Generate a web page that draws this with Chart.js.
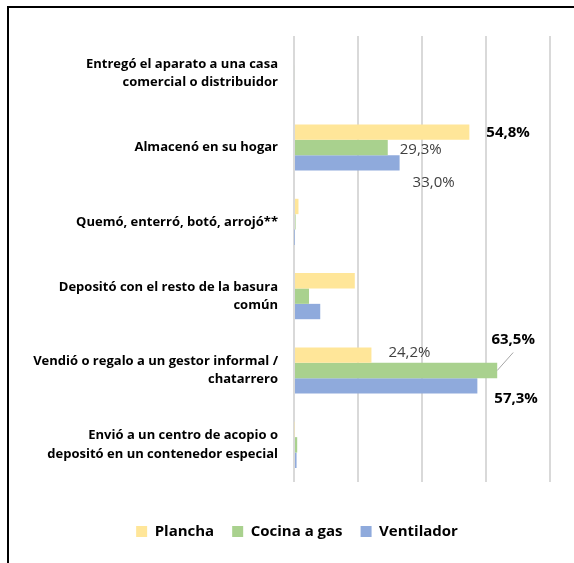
<!DOCTYPE html>
<html>
<head>
<meta charset="utf-8">
<script src="https://cdn.jsdelivr.net/npm/chart.js@4.4.1/dist/chart.umd.min.js"></script>
<style>
  html, body { margin: 0; padding: 0; background: #fff; }
  #wrap { position: relative; width: 574px; height: 563px; }
  #frame { position: absolute; left: 7px; top: 6px; right: 0; bottom: 0; border-top: 2px solid #000; border-left: 2px solid #000; pointer-events: none; }
  canvas { position: absolute; left: 0; top: 0; }
</style>
</head>
<body>
<div id="wrap">
  <canvas id="grafico" width="574" height="563"></canvas>
  <div id="frame"></div>
</div>
<script>
// categorias (de arriba hacia abajo)
const categorias = [
    ["Entregó el aparato a una casa", "comercial o distribuidor"],
    "Almacenó en su hogar",
    "Quemó, enterró, botó, arrojó**",
    ["Depositó con el resto de la basura", "común"],
    ["Vendió o regalo a un gestor informal /", "chatarrero"],
    ["Envió a un centro de acopio o", "depositó en un contenedor especial"]
];

// porcentajes por aparato
const plancha    = [0.0, 54.8, 1.4, 19.0, 24.2, 0.2];
const cocinaGas  = [0.3, 29.3, 0.5, 4.7, 63.5, 1.0];
const ventilador = [0.0, 33.0, 0.1, 8.2, 57.3, 0.8];

// etiquetas visibles (null = sin etiqueta)
const etiquetasPlancha    = [null, "54,8%", null, null, "24,2%", null];
const etiquetasCocina     = [null, "29,3%", null, null, "63,5%", null];
const etiquetasVentilador = [null, "33,0%", null, null, "57,3%", null];

const ejeX = { min: 0, max: 80, paso: 20 };

// estilo de cada etiqueta: [dataset][categoria] -> desplazamiento y estilo
const estiloEtiquetas = {
    0: { 1: { dx: 17, dy: 1, bold: true }, 4: { dx: 17, dy: -2, bold: false } },
    1: { 1: { dx: 12, dy: 2, bold: false }, 4: { dx: 16, dy: -31, bold: true, center: true, leader: true } },
    2: { 1: { dx: 13, dy: 20, bold: false }, 4: { dx: 17, dy: 13, bold: true } }
};

const etiquetasPlugin = {
    id: 'etiquetas',
    afterLayout(chart) {
        // la leyenda del original esta algo corrida a la derecha
        chart.legend.left += 22;
        chart.legend.right += 22;
    },
    afterDatasetsDraw(chart) {
        const c = chart.ctx;
        chart.data.datasets.forEach((ds, i) => {
            const meta = chart.getDatasetMeta(i);
            meta.data.forEach((bar, j) => {
                const txt = ds.etiquetas[j];
                if (!txt) return;
                const st = (estiloEtiquetas[i] || {})[j] || { dx: 8, dy: 0, bold: false };
                const x = bar.x + st.dx;
                const y = bar.y + st.dy;
                c.save();
                c.font = (st.bold ? 'bold 15px "Open Sans"' : '15px "Open Sans"') + ', sans-serif';
                c.fillStyle = st.bold ? '#000' : '#404040';
                c.textBaseline = 'middle';
                if (st.leader) {
                    c.strokeStyle = '#a6a6a6';
                    c.lineWidth = 1;
                    c.beginPath();
                    c.moveTo(bar.x, bar.y);
                    c.lineTo(x, y + 13);
                    c.stroke();
                }
                c.textAlign = st.center ? 'center' : 'left';
                c.fillText(txt, x, y);
                c.restore();
            });
        });
    }
};

const grafico = new Chart(document.getElementById("grafico").getContext("2d"), {
    type: 'bar',
    data: {
        labels: categorias,
        datasets: [
            { label: 'Plancha', data: plancha, etiquetas: etiquetasPlancha, backgroundColor: '#FFE699' },
            { label: 'Cocina a gas', data: cocinaGas, etiquetas: etiquetasCocina, backgroundColor: '#A9D18E' },
            { label: 'Ventilador', data: ventilador, etiquetas: etiquetasVentilador, backgroundColor: '#8FAADC' }
        ]
    },
    options: {
        indexAxis: 'y',
        responsive: false,
        animation: false,
        layout: { padding: { top: 36, right: 24, bottom: 14, left: 0 } },
        datasets: { bar: { categoryPercentage: 0.62, barPercentage: 1.0 } },
        scales: {
            x: {
                min: ejeX.min,
                max: ejeX.max,
                ticks: { display: false, stepSize: ejeX.paso },
                grid: { color: '#d9d9d9', lineWidth: 2, drawTicks: false },
                border: { display: false },
                afterFit(scale) { scale.height = 24; }
            },
            y: {
                grid: { display: false, drawTicks: false },
                border: { display: false },
                ticks: {
                    color: '#000',
                    padding: 16,
                    font: { family: '"Open Sans", sans-serif', size: 13, weight: 'bold', lineHeight: 1.4 }
                },
                afterFit(scale) { scale.width = 294; }
            }
        },
        plugins: {
            legend: {
                position: 'bottom',
                labels: {
                    boxWidth: 11,
                    boxHeight: 11,
                    padding: 18,
                    color: '#000',
                    font: { family: '"Open Sans", sans-serif', size: 15, weight: 'bold' }
                }
            },
            tooltip: { enabled: false }
        }
    },
    plugins: [etiquetasPlugin]
});
</script>
</body>
</html>
